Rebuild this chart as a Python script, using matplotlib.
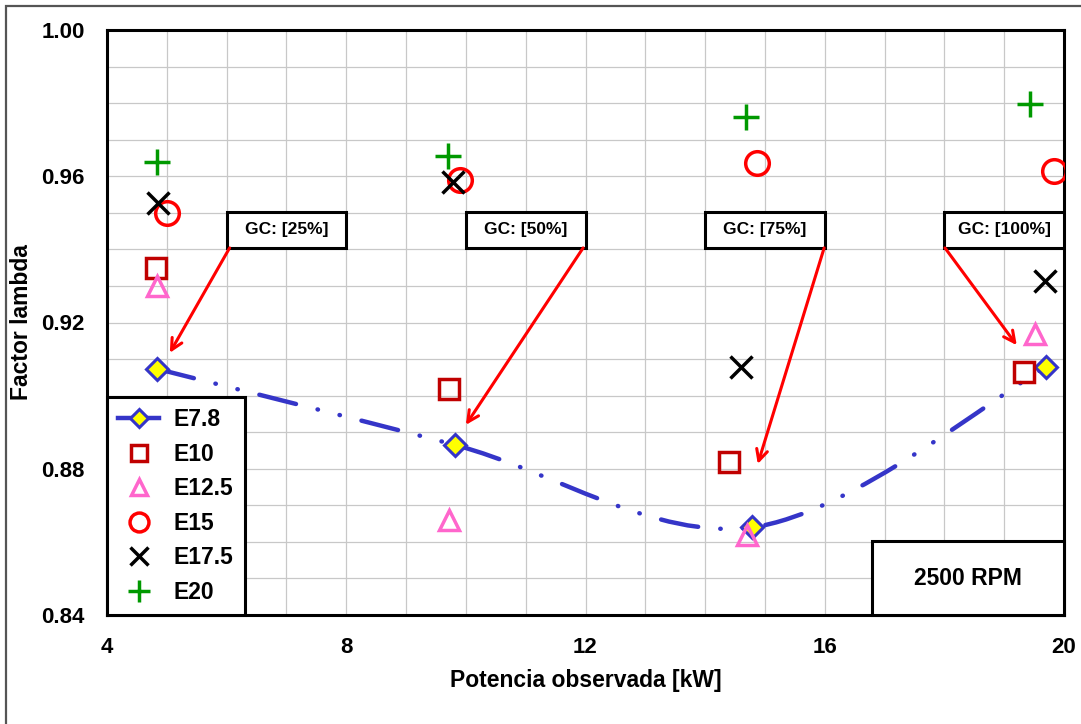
import numpy as np
import matplotlib
matplotlib.use("Agg")
import matplotlib.pyplot as plt
from matplotlib.path import Path
from matplotlib.patches import PathPatch, Rectangle
from matplotlib.lines import Line2D
from matplotlib.ticker import MultipleLocator

plt.rcParams['font.family'] = ['Liberation Sans', 'DejaVu Sans']
plt.rcParams['font.weight'] = 'bold'

# Potencia observada [kW] / factor lambda para cada mezcla
x_e78 = [4.84, 9.82, 14.79, 19.70]
y_e78 = [0.9073, 0.8865, 0.8640, 0.9078]
x_e10 = [4.82, 9.72, 14.40, 19.33]
y_e10 = [0.9349, 0.9018, 0.8818, 0.9065]
x_e125 = [4.84, 9.72, 14.70, 19.52]
y_e125 = [0.9300, 0.8660, 0.8620, 0.9169]
x_e15 = [5.00, 9.90, 14.87, 19.84]
y_e15 = [0.9500, 0.9590, 0.9636, 0.9614]
x_e175 = [4.85, 9.79, 14.60, 19.69]
y_e175 = [0.9527, 0.9584, 0.9078, 0.9313]
x_e20 = [4.84, 9.70, 14.69, 19.43]
y_e20 = [0.9639, 0.9655, 0.9762, 0.9798]

gc_labels = ["GC: [25%]", "GC: [50%]", "GC: [75%]", "GC: [100%]"]
rpm_label = "2500 RPM"

# layout for the callout boxes: (box left x, arrow start, arrow tip)
callouts = [
    (6.0, (6.05, 0.9404), (5.05, 0.9117)),
    (10.0, (11.96, 0.9404), (10.0, 0.8920)),
    (14.0, (15.99, 0.9404), (14.88, 0.8813)),
    (18.0, (18.01, 0.9404), (19.21, 0.9138)),
]

blue = '#3535C8'

fig = plt.figure(figsize=(10.81, 7.24), dpi=100)
ax = fig.add_axes([107 / 1081, 109 / 724, 957 / 1081, 585 / 724])

# outer chart border
fig.patches.append(Rectangle((6 / 1081, -0.1), 1.2, 1.1 - 6 / 724, transform=fig.transFigure,
                             fill=False, edgecolor='#555555', lw=1.6))

ax.set_xlim(4, 20)
ax.set_ylim(0.84, 1.00)
ax.xaxis.set_major_locator(MultipleLocator(4))
ax.xaxis.set_minor_locator(MultipleLocator(1))
ax.yaxis.set_major_locator(MultipleLocator(0.04))
ax.yaxis.set_minor_locator(MultipleLocator(0.01))
ax.yaxis.set_major_formatter(matplotlib.ticker.FormatStrFormatter('%.2f'))
ax.grid(True, which='both', color='#c8c8c8', lw=0.9)
ax.set_axisbelow(True)
ax.tick_params(which='both', length=0)
ax.tick_params(axis='both', labelsize=16, pad=16)
for sp in ax.spines.values():
    sp.set_linewidth(2.2)
    sp.set_color('black')

ax.set_xlabel("Potencia observada [kW]", fontsize=16.5, fontweight='bold', labelpad=8)
ax.set_ylabel("Factor lambda", fontsize=16.5, fontweight='bold', labelpad=6)

# smoothed E7.8 line (Excel style smoothing)
pts = np.column_stack([x_e78, y_e78])
ext = np.vstack([pts[0], pts, pts[-1]])
verts = [tuple(pts[0])]
codes = [Path.MOVETO]
for i in range(len(pts) - 1):
    p0, p1, p2, p3 = ext[i], ext[i + 1], ext[i + 2], ext[i + 3]
    c1 = p1 + (p2 - p0) / 6
    c2 = p2 - (p3 - p1) / 6
    verts += [tuple(c1), tuple(c2), tuple(p2)]
    codes += [Path.CURVE4] * 3
curve = PathPatch(Path(verts, codes), fill=False, edgecolor=blue, lw=3.2,
                  linestyle=(0, (8.5, 5, 0.1, 5, 0.1, 5)), capstyle='round', zorder=3)
ax.add_patch(curve)

ax.plot(x_e78, y_e78, ls='none', marker='D', ms=11.5, mfc='#FFFF00', mec=blue, mew=2.2, zorder=4)
ax.plot(x_e10, y_e10, ls='none', marker='s', ms=14, mfc='none', mec='#C00000', mew=2.5, zorder=4)
ax.plot(x_e125, y_e125, ls='none', marker='^', ms=15, mfc='none', mec='#FF66CC', mew=2.5, zorder=4)
ax.plot(x_e15, y_e15, ls='none', marker='o', ms=17, mfc='none', mec='#FF0000', mew=2.5, zorder=4)
ax.plot(x_e175, y_e175, ls='none', marker='x', ms=16, mec='black', mew=2.5, zorder=4)
ax.plot(x_e20, y_e20, ls='none', marker='+', ms=19, mec='#009900', mew=2.5, zorder=4)

handles = [
    Line2D([], [], color=blue, lw=3.2, marker='D', ms=11.5, mfc='#FFFF00', mec=blue, mew=2.2),
    Line2D([], [], ls='none', marker='s', ms=14, mfc='none', mec='#C00000', mew=2.5),
    Line2D([], [], ls='none', marker='^', ms=15, mfc='none', mec='#FF66CC', mew=2.5),
    Line2D([], [], ls='none', marker='o', ms=17, mfc='none', mec='#FF0000', mew=2.5),
    Line2D([], [], ls='none', marker='x', ms=16, mec='black', mew=2.5),
    Line2D([], [], ls='none', marker='+', ms=19, mec='#009900', mew=2.5),
]
labels = ["E7.8", "E10", "E12.5", "E15", "E17.5", "E20"]
leg = ax.legend(handles, labels, loc='lower left', bbox_to_anchor=(0, 0), borderaxespad=0,
                fancybox=False, framealpha=1, edgecolor='black',
                handlelength=1.75, handletextpad=0.65, labelspacing=0.5, borderpad=0.5,
                markerscale=0.8, prop={'weight': 'bold', 'size': 16.5})
leg.get_frame().set_linewidth(2.2)
leg.set_zorder(6)

# callout boxes with red arrows
for lab, (bx, start, tip) in zip(gc_labels, callouts):
    ax.add_patch(Rectangle((bx, 0.9404), 2.0, 0.0098, facecolor='white', edgecolor='black',
                           lw=2.2, zorder=5))
    ax.text(bx + 1.0, 0.9453, lab, ha='center', va='center', fontsize=12.5,
            fontweight='bold', zorder=6)
    ax.annotate('', xy=tip, xytext=start,
                arrowprops=dict(arrowstyle='->,head_length=0.8,head_width=0.4', color='red',
                                lw=2.2, shrinkA=0, shrinkB=0), zorder=5)

# speed label box
ax.add_patch(Rectangle((0.799, 0.0), 0.201, 0.1265, transform=ax.transAxes, facecolor='white',
                       edgecolor='black', lw=2.2, zorder=5, clip_on=False))
ax.text(0.8997, 0.0632, rpm_label, transform=ax.transAxes, ha='center', va='center',
        fontsize=16.5, fontweight='bold', zorder=6)

fig.savefig("out.png", dpi=100)
